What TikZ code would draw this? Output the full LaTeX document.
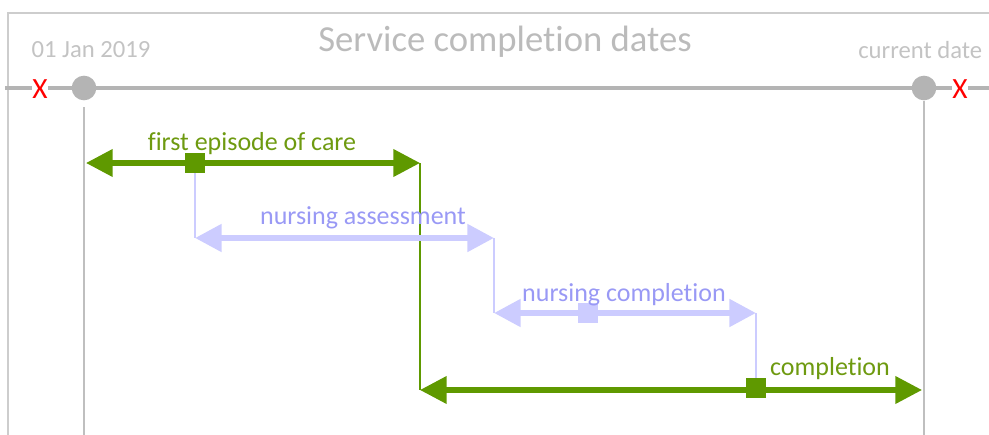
\documentclass[tikz,border=0pt]{standalone}
\usepackage{fontspec}
\setmainfont{Carlito}[Ligatures=NoCommon]
\usetikzlibrary{arrows.meta, positioning}
\definecolor{carecol}{HTML}{5F9900}
\definecolor{caretext}{HTML}{6E9A10}
\definecolor{nursecol}{HTML}{CCCCFF}
\definecolor{nursetext}{HTML}{9999F5}
\definecolor{axiscol}{HTML}{B4B4B4}
\definecolor{framecol}{HTML}{CDCDCD}
\tikzset{
  care/.style={draw=carecol, line width=3.8pt, {Triangle[width=20pt,length=20pt]}-{Triangle[width=20pt,length=20pt]}},
  nurse/.style={draw=nursecol, line width=4.5pt, {Triangle[width=20pt,length=20pt]}-{Triangle[width=20pt,length=20pt]}},
  careline/.style={draw=carecol, line width=1.4pt},
  nurseline/.style={draw=nursecol, line width=1.1pt},
  carelabel/.style={text=caretext, font=\fontsize{19.5}{21}\selectfont, inner sep=0pt},
  nurselabel/.style={text=nursetext, font=\fontsize{19.5}{21}\selectfont, inner sep=0pt},
  datelabel/.style={text=axiscol!80, font=\fontsize{18.5}{20}\selectfont, inner sep=0pt},
  caremark/.style={fill=carecol, minimum width=15pt, minimum height=15.5pt, inner sep=0pt},
  nursemark/.style={fill=nursecol, minimum width=15.5pt, minimum height=15.5pt, inner sep=0pt},
  dot/.style={circle, fill=axiscol, minimum size=18.5pt, inner sep=0pt},
  cross/.style={text=red, font=\fontsize{22}{22}\selectfont, inner sep=0.5pt, fill=white}
}
\begin{document}
\begin{tikzpicture}[x=0.75pt, y=-0.75pt]
\useasboundingbox (0,0) rectangle (989,435);

% frame and title
\draw[framecol, line width=2.2pt] (8,435) -- (8,13) -- (989,13);
\node[text=axiscol!90, font=\fontsize{27.5}{30}\selectfont, inner sep=0pt] (title) at (505,42) {Service completion dates};

% time axis
\draw[axiscol, line width=2.8pt] (5,88) -- (989,88);
\node[cross] (xl) at (40,89) {X};
\node[cross] (xr) at (960,89) {X};
\node[dot] (start) at (84,88) {};
\node[dot] (now) at (924,88) {};
\node[datelabel] (startlab) at (91,50) {01 Jan 2019};
\node[datelabel, anchor=west] (nowlab) at (858,50) {current date};
\coordinate (startfoot) at (84,435);
\coordinate (nowfoot) at (924,435);
\draw[axiscol!85, line width=1.5pt] (start.south) ++(0,-5pt) -- (startfoot);
\draw[axiscol!85, line width=1.5pt] (now.south) -- (nowfoot);

% episodes
\coordinate (a1) at (86,163);
\coordinate (a2) at (420,163);
\coordinate (b1) at (195,238);
\coordinate (b2) at (494,238);
\coordinate (c1) at (494,313);
\coordinate (c2) at (756,313);
\coordinate (d1) at (420,390);
\coordinate (d2) at (922,390);
\coordinate (m1) at (195,163);
\coordinate (m2) at (588,313);
\coordinate (m3) at (756,388);

\draw[nurseline] (m1) -- (b1);
\draw[nurseline] (b2) -- (c1);
\draw[nurseline] (c2) -- (m3);
\draw[careline] (a2) -- (d1);

\draw[nurse] (b1) -- (b2);
\draw[nurse] (c1) -- (c2);
\draw[care] (a1) -- (a2);
\draw[care] (d1) -- (d2);

\node[caremark] (mark1) at (m1) {};
\node[nursemark] (mark2) at (m2) {};
\node[caremark] (mark3) at (m3) {};

\node[carelabel] (first) at (252,144) {first episode of care};
\node[nurselabel] (assess) at (363,218) {nursing assessment};
\node[nurselabel] (ncomp) at (624,295) {nursing completion};
\node[carelabel] (comp) at (830,369) {completion};
\end{tikzpicture}
\end{document}
